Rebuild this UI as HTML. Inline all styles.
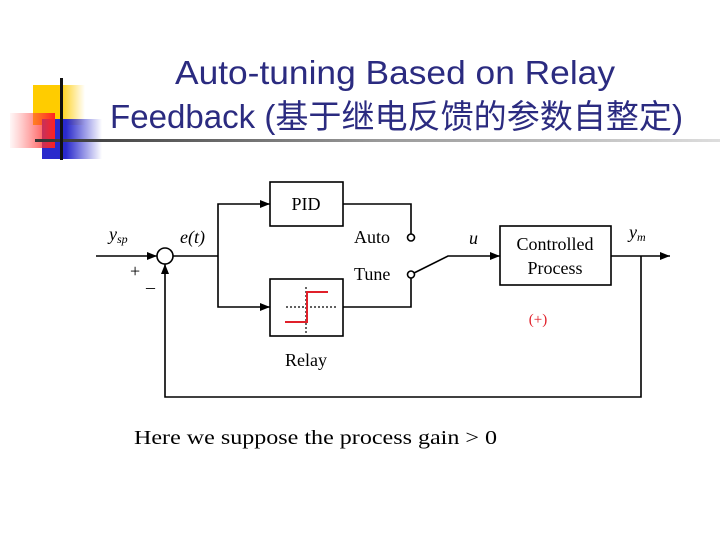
<!DOCTYPE html>
<html><head><meta charset="utf-8"><style>
html,body{margin:0;padding:0;background:#fff;width:720px;height:540px;overflow:hidden}
</style></head><body>
<svg width="720" height="540" xmlns="http://www.w3.org/2000/svg">
<defs>
<linearGradient id="ye" x1="0" x2="1"><stop offset="0.5" stop-color="#ffcc00"/><stop offset="1" stop-color="#ffcc00" stop-opacity="0"/></linearGradient>
<linearGradient id="re" x1="1" x2="0"><stop offset="0" stop-color="#ff2020"/><stop offset="1" stop-color="#ff6060" stop-opacity="0.05"/></linearGradient>
<linearGradient id="bl" x1="0" x2="1"><stop offset="0.4" stop-color="#2a2acc"/><stop offset="1" stop-color="#2a2acc" stop-opacity="0"/></linearGradient>
<linearGradient id="ln" x1="0" x2="1"><stop offset="0" stop-color="#333"/><stop offset="0.5" stop-color="#999"/><stop offset="1" stop-color="#ddd"/></linearGradient>
<marker id="a" markerWidth="10" markerHeight="8" refX="10" refY="4" orient="auto" markerUnits="userSpaceOnUse"><path d="M0,0 L10,4 L0,8 z" fill="#000"/></marker>
</defs>
<rect x="33" y="85" width="52" height="40" fill="url(#ye)"/>
<rect x="42" y="119" width="60" height="40" fill="url(#bl)"/>
<rect x="10" y="113" width="45" height="35" fill="url(#re)"/>
<rect x="35" y="139" width="685" height="3" fill="url(#ln)"/>
<rect x="60" y="78" width="3" height="82" fill="#111"/>
<g font-family="'Liberation Sans','Noto Sans CJK SC',sans-serif" fill="#2b2b80" font-size="33">
<text x="175" y="84" textLength="440" lengthAdjust="spacingAndGlyphs">Auto-tuning Based on Relay</text>
<text x="110" y="128" textLength="573" lengthAdjust="spacingAndGlyphs">Feedback (基于继电反馈的参数自整定)</text>
</g>
<g stroke="#000" stroke-width="1.6" fill="none">
<line x1="96" y1="256" x2="157" y2="256" marker-end="url(#a)"/>
<circle cx="165" cy="256" r="8" fill="#fff"/>
<line x1="173" y1="256" x2="218" y2="256"/>
<polyline points="218,256 218,204 270,204" marker-end="url(#a)"/>
<polyline points="218,256 218,307 270,307" marker-end="url(#a)"/>
<rect x="270" y="182" width="73" height="44"/>
<rect x="270" y="279" width="73" height="57"/>
<polyline points="343,204 411,204 411,234"/>
<circle cx="411" cy="237.5" r="3.5" fill="#fff"/>
<polyline points="343,307 411,307 411,278"/>
<circle cx="411" cy="274.5" r="3.5" fill="#fff"/>
<polyline points="414,273 448,256 500,256" marker-end="url(#a)"/>
<rect x="500" y="226" width="111" height="59"/>
<line x1="611" y1="256" x2="670" y2="256" marker-end="url(#a)"/>
<polyline points="641,256 641,397 165,397 165,264" marker-end="url(#a)"/>
<line x1="286" y1="307" x2="338" y2="307" stroke-dasharray="2,2" stroke-width="1.2"/>
<line x1="306" y1="287" x2="306" y2="333" stroke-dasharray="2,2" stroke-width="1.2"/>
<polyline points="285,322 307,322 307,292 328,292" stroke="#e0202a" stroke-width="2"/>
</g>
<g font-family="'Liberation Serif',serif" fill="#000" font-size="18">
<text x="306" y="210" text-anchor="middle">PID</text>
<text x="306" y="366" text-anchor="middle">Relay</text>
<text x="354" y="243">Auto</text>
<text x="354" y="280">Tune</text>
<text x="555" y="250" text-anchor="middle">Controlled</text>
<text x="555" y="274" text-anchor="middle">Process</text>
<text x="109" y="240" font-style="italic">y<tspan font-size="12" dy="3">sp</tspan></text>
<text x="180" y="243" font-style="italic">e(t)</text>
<text x="469" y="244" font-style="italic">u</text>
<text x="629" y="238" font-style="italic">y<tspan font-size="12" dy="3">m</tspan></text>
<text x="130" y="277">+</text>
<text x="146" y="293">–</text>
<text x="538" y="324" fill="#e0202a" font-size="15" text-anchor="middle">(+)</text>
<text x="134" y="444" font-size="20.5" textLength="363" lengthAdjust="spacingAndGlyphs">Here we suppose the process gain &gt; 0</text>
</g>
</svg>
</body></html>
